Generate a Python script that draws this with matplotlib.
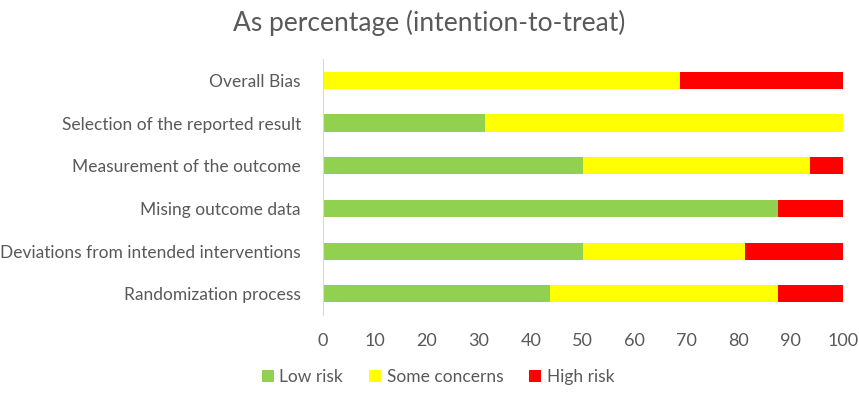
import numpy as np
import matplotlib.pyplot as plt

plt.rcParams['font.family'] = ['Lato', 'DejaVu Sans']

domains = ['Randomization process', 'Deviations from intended interventions',
           'Mising outcome data', 'Measurement of the outcome',
           'Selection of the reported result', 'Overall Bias']
low = [43.75, 50, 87.5, 50, 31.25, 0]
some = [43.75, 31.25, 0, 43.75, 68.75, 68.75]
high = [12.5, 18.75, 12.5, 6.25, 0, 31.25]

txt = '#595959'
fig = plt.figure(figsize=(8.59, 3.93), dpi=100)
ax = fig.add_axes([0.376, 0.198, 0.605, 0.652])

y = np.arange(len(domains))
low = np.array(low)
some = np.array(some)
high = np.array(high)
ax.barh(y, low, height=0.4, color='#92d050', label='Low risk')
ax.barh(y, some, height=0.4, left=low, color='#ffff00', label='Some concerns')
ax.barh(y, high, height=0.4, left=low + some, color='#ff0000', label='High risk')

ax.set_xlim(0, 100)
ax.set_ylim(-0.5, len(domains) - 0.5)
ax.set_xticks(np.arange(0, 101, 10))
ax.set_yticks(y)
ax.set_yticklabels(domains)
ax.tick_params(axis='both', length=0, colors=txt)
ax.tick_params(axis='x', pad=13, labelsize=13)
ax.tick_params(axis='y', pad=16, labelsize=12.5)
for s in ['top', 'right', 'bottom']:
    ax.spines[s].set_visible(False)
ax.spines['left'].set_color('#d9d9d9')

fig.suptitle('As percentage (intention-to-treat)', y=0.975, fontsize=19, color=txt)
fig.legend(loc='lower center', bbox_to_anchor=(0.51, -0.02), ncol=3, frameon=False,
           fontsize=12.5, labelcolor=txt, handlelength=0.7, handleheight=0.7,
           handletextpad=0.3, columnspacing=1.5)

fig.savefig('out.png', dpi=100)
